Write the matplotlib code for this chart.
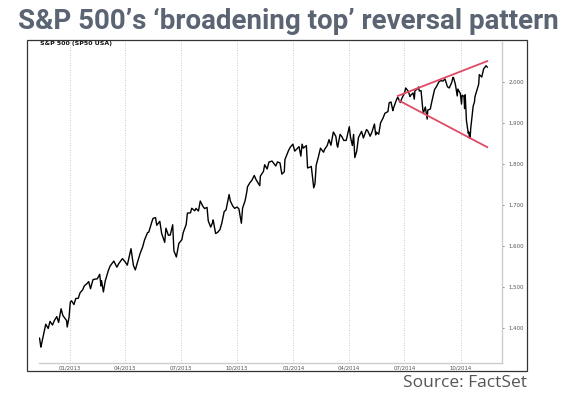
import pandas as pd
import matplotlib
matplotlib.use("Agg")
from matplotlib import pyplot as plt
import matplotlib.dates as mdates
from matplotlib.patches import Rectangle

# S&P 500 closes (approx.)
dates = [
    "2012-11-09", "2012-11-13", "2012-11-15", "2012-11-16", "2012-11-20", "2012-11-23",
    "2012-11-27", "2012-11-30", "2012-12-04", "2012-12-07", "2012-12-11", "2012-12-14",
    "2012-12-18", "2012-12-21", "2012-12-27", "2012-12-28", "2012-12-31", "2013-01-02",
    "2013-01-04", "2013-01-08", "2013-01-11", "2013-01-15", "2013-01-18", "2013-01-22",
    "2013-01-25", "2013-01-29", "2013-02-01", "2013-02-04", "2013-02-08", "2013-02-12",
    "2013-02-15", "2013-02-19", "2013-02-21", "2013-02-22", "2013-02-25", "2013-02-28",
    "2013-03-05", "2013-03-08", "2013-03-14", "2013-03-19", "2013-03-22", "2013-03-28",
    "2013-04-01", "2013-04-05", "2013-04-11", "2013-04-15", "2013-04-18", "2013-04-22",
    "2013-04-26", "2013-04-30", "2013-05-03", "2013-05-08", "2013-05-10", "2013-05-15",
    "2013-05-17", "2013-05-21", "2013-05-23", "2013-05-28", "2013-05-31", "2013-06-05",
    "2013-06-07", "2013-06-11", "2013-06-14", "2013-06-18", "2013-06-20", "2013-06-24",
    "2013-06-28", "2013-07-03", "2013-07-05", "2013-07-10", "2013-07-12", "2013-07-17",
    "2013-07-19", "2013-07-24", "2013-07-26", "2013-07-30", "2013-08-02", "2013-08-06",
    "2013-08-09", "2013-08-13", "2013-08-15", "2013-08-19", "2013-08-22", "2013-08-23",
    "2013-08-27", "2013-08-30", "2013-09-03", "2013-09-06", "2013-09-10", "2013-09-13",
    "2013-09-18", "2013-09-20", "2013-09-24", "2013-09-27", "2013-10-01", "2013-10-04",
    "2013-10-08", "2013-10-10", "2013-10-14", "2013-10-17", "2013-10-18", "2013-10-22",
    "2013-10-25", "2013-10-29", "2013-11-01", "2013-11-07", "2013-11-08", "2013-11-13",
    "2013-11-15", "2013-11-19", "2013-11-22", "2013-11-27", "2013-12-03", "2013-12-06",
    "2013-12-10", "2013-12-13", "2013-12-17", "2013-12-18", "2013-12-20", "2013-12-24",
    "2013-12-27", "2013-12-31", "2014-01-03", "2014-01-07", "2014-01-10", "2014-01-13",
    "2014-01-15", "2014-01-17", "2014-01-22", "2014-01-24", "2014-01-28", "2014-01-30",
    "2014-02-03", "2014-02-05", "2014-02-07", "2014-02-11", "2014-02-14", "2014-02-19",
    "2014-02-21", "2014-02-25", "2014-02-28", "2014-03-03", "2014-03-07", "2014-03-11",
    "2014-03-13", "2014-03-14", "2014-03-18", "2014-03-21", "2014-03-24", "2014-03-28",
    "2014-04-02", "2014-04-04", "2014-04-07", "2014-04-09", "2014-04-11", "2014-04-14",
    "2014-04-17", "2014-04-22", "2014-04-25", "2014-04-30", "2014-05-02", "2014-05-06",
    "2014-05-09", "2014-05-13", "2014-05-15", "2014-05-16", "2014-05-20", "2014-05-23",
    "2014-05-27", "2014-05-30", "2014-06-04", "2014-06-06", "2014-06-09", "2014-06-12",
    "2014-06-13", "2014-06-18", "2014-06-20", "2014-06-24", "2014-06-27", "2014-07-01",
    "2014-07-03", "2014-07-07", "2014-07-10", "2014-07-11", "2014-07-15", "2014-07-17",
    "2014-07-18", "2014-07-22", "2014-07-24", "2014-07-25", "2014-07-28", "2014-07-31",
    "2014-08-01", "2014-08-04", "2014-08-07", "2014-08-08", "2014-08-12", "2014-08-15",
    "2014-08-19", "2014-08-22", "2014-08-26", "2014-08-29", "2014-09-02", "2014-09-05",
    "2014-09-09", "2014-09-12", "2014-09-16", "2014-09-18", "2014-09-19", "2014-09-22",
    "2014-09-25", "2014-09-26", "2014-09-30", "2014-10-02", "2014-10-03", "2014-10-06",
    "2014-10-07", "2014-10-08", "2014-10-10", "2014-10-13", "2014-10-14", "2014-10-15",
    "2014-10-16", "2014-10-17", "2014-10-21", "2014-10-23", "2014-10-24", "2014-10-28",
    "2014-10-30", "2014-10-31", "2014-11-04", "2014-11-07", "2014-11-11", "2014-11-13",
]
closes = [
    1379.9, 1374.5, 1353.3, 1359.9, 1387.8, 1409.2,
    1398.9, 1416.2, 1407.1, 1418.1, 1427.8, 1413.6,
    1446.8, 1430.2, 1418.1, 1402.4, 1426.2, 1462.4,
    1466.5, 1457.2, 1472.1, 1472.3, 1486.0, 1492.6,
    1503.0, 1507.8, 1513.2, 1495.7, 1517.9, 1519.4,
    1519.8, 1530.9, 1502.4, 1515.6, 1487.9, 1514.7,
    1539.8, 1551.2, 1563.2, 1548.3, 1556.9, 1569.2,
    1562.2, 1553.3, 1593.4, 1552.4, 1541.6, 1562.5,
    1582.2, 1597.6, 1614.4, 1632.7, 1633.7, 1658.8,
    1667.5, 1669.2, 1650.5, 1660.1, 1630.7, 1608.9,
    1643.4, 1626.1, 1626.7, 1651.8, 1588.2, 1573.1,
    1606.3, 1615.4, 1631.9, 1652.6, 1680.2, 1680.9,
    1692.1, 1685.9, 1691.7, 1685.3, 1709.7, 1697.4,
    1691.4, 1694.2, 1661.3, 1646.1, 1657.0, 1663.5,
    1630.5, 1633.0, 1639.8, 1655.2, 1684.0, 1688.0,
    1725.5, 1709.9, 1697.4, 1691.8, 1695.0, 1690.5,
    1655.5, 1692.6, 1710.1, 1733.2, 1744.5, 1754.7,
    1759.8, 1772.0, 1761.6, 1747.2, 1770.6, 1782.0,
    1798.2, 1787.9, 1804.8, 1807.2, 1795.2, 1805.1,
    1802.6, 1775.3, 1781.0, 1810.7, 1818.3, 1833.3,
    1841.4, 1848.4, 1831.4, 1837.9, 1842.4, 1819.2,
    1848.4, 1838.7, 1844.9, 1790.3, 1792.5, 1794.2,
    1741.9, 1751.6, 1797.0, 1819.8, 1838.6, 1828.8,
    1836.3, 1845.1, 1859.5, 1845.7, 1878.0, 1867.6,
    1846.3, 1841.1, 1872.3, 1866.5, 1857.4, 1857.6,
    1890.9, 1865.1, 1845.0, 1872.2, 1815.7, 1830.6,
    1864.9, 1879.6, 1863.4, 1884.0, 1881.1, 1867.7,
    1878.5, 1897.5, 1870.9, 1877.9, 1872.8, 1900.5,
    1911.9, 1923.6, 1927.9, 1949.4, 1951.3, 1930.1,
    1936.2, 1957.0, 1962.9, 1950.0, 1961.0, 1973.3,
    1985.4, 1977.7, 1964.7, 1967.6, 1973.3, 1958.1,
    1978.2, 1983.5, 1988.0, 1978.3, 1978.9, 1930.7,
    1925.2, 1939.0, 1909.6, 1931.6, 1933.8, 1955.1,
    1981.6, 1988.4, 2000.0, 2003.4, 2002.3, 2007.7,
    1988.4, 1985.5, 1999.0, 2011.4, 2010.4, 1994.3,
    1966.0, 1982.9, 1972.3, 1946.2, 1967.9, 1964.8,
    1935.1, 1968.9, 1906.1, 1874.7, 1877.7, 1862.5,
    1862.8, 1886.8, 1941.3, 1950.8, 1964.6, 1985.1,
    1994.7, 2018.1, 2012.1, 2031.9, 2039.7, 2036.3,
]

# broadening top trend lines (start, end)
upper_dates = ["2014-06-20", "2014-11-13"]
upper_vals = [1966, 2051]
lower_dates = ["2014-06-23", "2014-11-13"]
lower_vals = [1954, 1841]

tick_dates = ["2013-01-01", "2013-04-01", "2013-07-01", "2013-10-01",
              "2014-01-01", "2014-04-01", "2014-07-01", "2014-10-01"]
tick_labels = ["01/2013", "04/2013", "07/2013", "10/2013",
               "01/2014", "04/2014", "07/2014", "10/2014"]
y_ticks = [1400, 1500, 1600, 1700, 1800, 1900, 2000]
y_labels = ["1,400", "1,500", "1,600", "1,700", "1,800", "1,900", "2,000"]

W, H = 569, 398
fig = plt.figure(figsize=(W / 100, H / 100), dpi=100)

# outer frame of the chart image
fig.patches.append(Rectangle((27 / W, 1 - 371 / H), 500 / W, 331 / H,
                             transform=fig.transFigure, fill=False,
                             edgecolor="#333333", linewidth=0.9))

ax = fig.add_axes([39 / W, 1 - 363 / H, 463 / W, 321 / H])
x = pd.to_datetime(dates)
ax.plot(x, closes, color="black", linewidth=1.0)
ax.plot(pd.to_datetime(upper_dates), upper_vals, color="#e04a64", linewidth=1.3)
ax.plot(pd.to_datetime(lower_dates), lower_vals, color="#e04a64", linewidth=1.3)

ax.set_xlim(mdates.date2num(pd.Timestamp("2012-11-12")),
            mdates.date2num(pd.Timestamp("2014-12-07")))
ax.set_ylim(1314.6, 2097.6)

ax.set_xticks(pd.to_datetime(tick_dates))
ax.set_xticklabels(tick_labels)
ax.set_yticks(y_ticks)
ax.set_yticklabels(y_labels)
ax.yaxis.tick_right()
ax.tick_params(axis="both", labelsize=3.9, colors="#555555", length=1.5, width=0.5, pad=3)
ax.tick_params(axis="x", length=0, pad=2)
ax.grid(axis="x", linestyle=(0, (1, 2)), color="#bbbbbb", linewidth=0.6)

for s in ["top", "left"]:
    ax.spines[s].set_visible(False)
for s in ["bottom", "right"]:
    ax.spines[s].set_color("#cccccc")
    ax.spines[s].set_linewidth(1.0)

fig.text(40 / W, 1 - 44 / H, "S&P 500 (SP50 USA)", fontsize=4.5, fontweight="bold",
         family="DejaVu Sans", va="center", ha="left", color="#111111")

fig.text(288 / W, 1 - 21 / H, "S&P 500\u2019s \u2018broadening top\u2019 reversal pattern",
         fontsize=20, fontweight="bold", family="Roboto", color="#5b6473",
         ha="center", va="center")
fig.text(527 / W, 1 - 383 / H, "Source: FactSet", fontsize=12.5, family="Open Sans",
         color="#555555", ha="right", va="center")

fig.savefig("out.png", dpi=100)
